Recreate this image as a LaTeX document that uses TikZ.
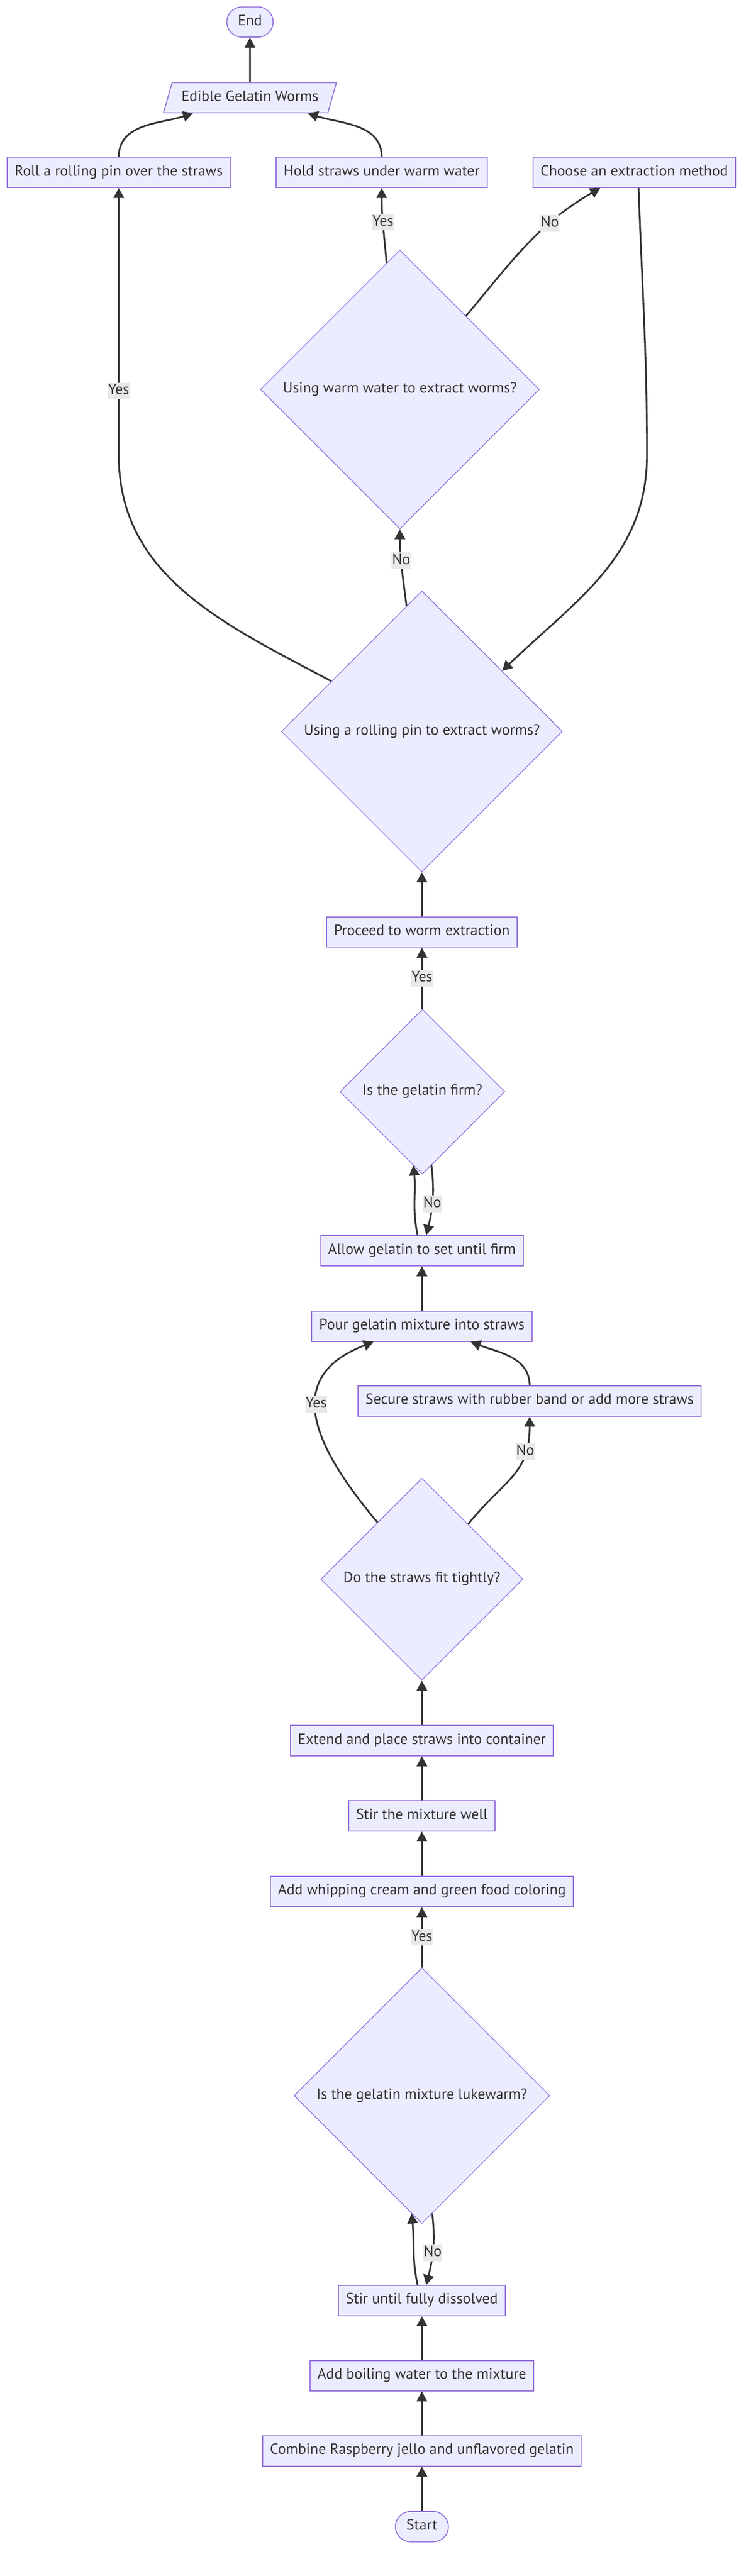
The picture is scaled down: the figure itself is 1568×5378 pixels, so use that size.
\documentclass[tikz,border=0pt]{standalone}
\usepackage{fontspec}
\setmainfont{PT Sans}
\usetikzlibrary{arrows.meta, shapes.geometric}

\definecolor{nodefill}{HTML}{ECECFF}
\definecolor{nodeline}{HTML}{9370DB}
\definecolor{edgeline}{HTML}{333333}
\definecolor{labelbg}{HTML}{E8E8E8}

\tikzset{
  every node/.style={font=\fontsize{31.2}{37}\selectfont, text=edgeline},
  box/.style={rectangle, draw=nodeline, fill=nodefill, line width=2pt,
    inner xsep=15.5pt, inner ysep=16.5pt, text height=22pt, text depth=8pt},
  question/.style={diamond, aspect=1, draw=nodeline, fill=nodefill, line width=1.5pt,
    inner xsep=15.5pt, inner ysep=16.5pt, text height=22pt, text depth=8pt},
  terminal/.style={rectangle, rounded corners=31.5pt, draw=nodeline, fill=nodefill,
    line width=2pt, inner xsep=23pt, inner ysep=16.5pt, text height=22pt, text depth=8pt},
  result/.style={trapezium, trapezium left angle=64, trapezium right angle=116,
    trapezium stretches body, draw=nodeline, fill=nodefill, line width=2pt,
    minimum width=361pt, minimum height=63pt, text height=22pt, text depth=8pt},
  flow/.style={draw=edgeline, line width=3.6pt, -{Triangle[length=21pt, width=22pt]}},
  lbl/.style={fill=labelbg, inner xsep=1pt, inner ysep=3pt, text height=22pt, text depth=7pt}
}

\begin{document}
\begin{tikzpicture}[x=1pt, y=1pt]
  \useasboundingbox (0,0) rectangle (1568,-5378);

  % top: extraction and end
  \node[terminal] (end) at (522,-46) {End};
  \node[result] (worms) at (522,-204) {Edible Gelatin Worms};
  \node[box] (roll) at (248,-360) {Roll a rolling pin over the straws};
  \node[box] (hold) at (797,-360) {Hold straws under warm water};
  \node[box] (choose) at (1324.5,-360) {Choose an extraction method};
  \node[question] (warm) at (835,-813) {Using warm water to extract worms?};
  \node[question] (pin) at (881,-1527) {Using a rolling pin to extract worms?};
  \coordinate (lturn) at (248,-950);
  \coordinate (rturn) at (1351,-950);

  % middle: setting and straws
  \node[box] (proceed) at (881,-1946) {Proceed to worm extraction};
  \node[question] (firm) at (882,-2279) {Is the gelatin firm?};
  \node[box] (allow) at (881,-2611) {Allow gelatin to set until firm};
  \node[box] (pour) at (881,-2769) {Pour gelatin mixture into straws};
  \node[box] (secure) at (1106,-2925) {Secure straws with rubber band or add more straws};
  \node[question] (fit) at (881,-3297) {Do the straws fit tightly?};
  \node[box] (extend) at (881,-3634) {Extend and place straws into container};
  \node[box] (stirwell) at (881,-3791) {Stir the mixture well};
  \node[box] (cream) at (881,-3949) {Add whipping cream and green food coloring};

  % bottom: mixing
  \node[question] (luke) at (881,-4375) {Is the gelatin mixture lukewarm?};
  \node[box] (dissolve) at (881,-4803) {Stir until fully dissolved};
  \node[box] (boil) at (881,-4960) {Add boiling water to the mixture};
  \node[box] (combine) at (881,-5117) {Combine Raspberry jello and unflavored gelatin};
  \node[terminal] (start) at (881,-5275) {Start};

  % connectors
  \draw[flow] (start) -- (combine);
  \draw[flow] (combine) -- (boil);
  \draw[flow] (boil) -- (dissolve);
  \draw[flow] ([xshift=-9pt]dissolve.north) to[out=102, in=-84] (luke.265);
  \draw[flow] (luke.275) to[out=-83, in=76] node[lbl, pos=0.55] (lukeno) {No} ([xshift=9pt]dissolve.north);
  \draw[flow] (luke) -- node[lbl] (lukeyes) {Yes} (cream);
  \draw[flow] (cream) -- (stirwell);
  \draw[flow] (stirwell) -- (extend);
  \draw[flow] (extend) -- (fit);
  \draw[flow] (fit.128.5) to[out=130, in=-159, looseness=1.4] node[lbl, pos=0.57] (fityes) {Yes} ([xshift=-101pt]pour.south);
  \draw[flow] (fit.50) to[out=51, in=-90, looseness=1.2] node[lbl, pos=0.75] (fitno) {No} (secure.south);
  \draw[flow] (secure.north) to[out=90, in=-21] ([xshift=102pt]pour.south);
  \draw[flow] (pour) -- (allow);
  \draw[flow] ([xshift=-9pt]allow.north) to[out=102, in=-84] (firm.263);
  \draw[flow] (firm.277) to[out=-83, in=76] node[lbl, pos=0.55] (firmno) {No} ([xshift=9pt]allow.north);
  \draw[flow] (firm) -- node[lbl] (firmyes) {Yes} (proceed);
  \draw[flow] (proceed) -- (pin);
  \draw[flow] (pin.97) to[out=97, in=-90] node[lbl, pos=0.6] (pinno) {No} (warm.south);
  \draw[flow] (pin.151) to[out=152, in=-90] (lturn) -- node[lbl, pos=0.24] (pinyes) {Yes} (roll.south);
  \draw[flow] ([xshift=9pt]choose.south) to[out=-88, in=90] (rturn) to[out=-90, in=44] (pin.37);
  \draw[flow] (warm.48) to[out=50, in=-150] node[lbl, pos=0.68] (warmno) {No} ([xshift=-71pt]choose.south);
  \draw[flow] (warm.96) to[out=95, in=-90] node[lbl, pos=0.55] (warmyes) {Yes} (hold.south);
  \draw[flow] (roll.north) to[out=90, in=-162] ([xshift=-119pt]worms.south);
  \draw[flow] (hold.north) to[out=90, in=-18] ([xshift=121pt]worms.south);
  \draw[flow] (worms) -- (end);
\end{tikzpicture}
\end{document}
